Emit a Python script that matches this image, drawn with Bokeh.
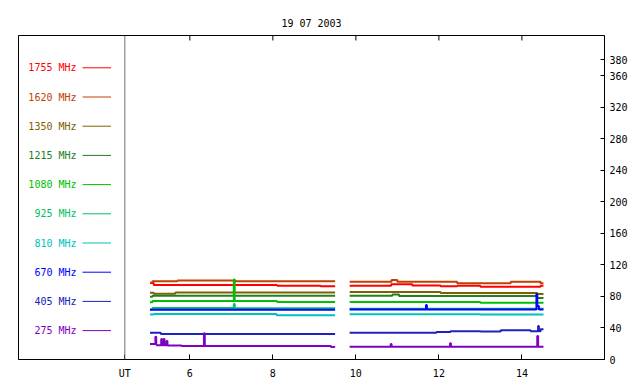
import math
from bokeh.plotting import figure
from bokeh.models import Range1d, FixedTicker, Span, Label
from bokeh.embed import file_html
from bokeh.resources import INLINE

nan = float("nan")

title_text = "19 07 2003"
freqs = ["1755 MHz", "1620 MHz", "1350 MHz", "1215 MHz", "1080 MHz",
         "925 MHz", "810 MHz", "670 MHz", "405 MHz", "275 MHz"]
colors = ["#ff0000", "#c04000", "#806000", "#208020", "#00c000",
          "#00c060", "#00c0c0", "#0000ff", "#2020c0", "#8000c0"]
x_ticks = [6, 8, 10, 12, 14]
ut_tick = 4.434
y_ticks = [0, 40, 80, 120, 160, 200, 240, 280, 320, 360, 380]

# time (UT hours) and flux values per frequency, NaN = data gap
t_1755 = [5.04, 5.13, 8.10, 9.15, 9.50, nan, 9.85, 10.85, 11.36, 12.04, 12.44, 13.00, 14.45, 14.52]
v_1755 = [97.0, 94.5, 93.7, 92.9, 92.9, nan, 93.7, 95.4, 93.9, 93.0, 93.5, 92.4, 93.7, 93.7]

t_1620 = [5.04, 5.10, 5.70, 7.10, 9.50, nan, 9.85, 10.86, 11.00, 12.44, 13.73, 14.45, 14.52]
v_1620 = [97.5, 99.3, 100.3, 99.3, 99.3, nan, 98.7, 101.0, 98.7, 96.7, 98.5, 96.7, 96.7]

t_1350 = [5.04, 5.13, 5.65, 9.50, nan, 9.85, 12.04, 14.37, 14.52]
v_1350 = [84.8, 83.3, 85.0, 85.0, nan, 85.7, 84.4, 83.0, 83.0]

t_1215 = [5.04, 5.10, 9.50, nan, 9.85, 10.88, 11.04, 14.37, 14.52]
v_1215 = [79.5, 81.0, 81.0, nan, 81.0, 82.6, 80.6, 78.0, 78.0]

t_1080 = [5.04, 5.10, 7.06, 7.08, 8.10, 9.50, nan, 9.85, 13.00, 14.52]
v_1080 = [72.5, 74.2, 101.5, 74.2, 73.0, 73.0, nan, 73.0, 72.0, 72.0]

t_925 = [5.04, 5.10, 7.06, 7.08, 9.50, nan, 9.85, 14.52]
v_925 = [63.5, 65.3, 70.4, 65.0, 65.0, nan, 64.3, 64.3]

t_810 = [5.04, 5.13, 8.09, 9.50, nan, 9.85, 13.00, 14.52]
v_810 = [57.0, 57.7, 56.1, 56.1, nan, 57.4, 57.0, 57.0]

t_670 = [5.04, 9.50, nan, 9.85, 11.69, 11.71, 14.35, 14.37, 14.41, 14.52]
v_670 = [63.0, 63.0, nan, 63.5, 69.2, 63.5, 83.0, 68.0, 63.5, 63.5]

t_405 = [5.04, 5.30, 9.50, nan, 9.85, 11.94, 12.28, 13.00, 13.49, 14.21, 14.39, 14.41, 14.45, 14.52]
v_405 = [34.0, 32.4, 32.4, nan, 34.0, 34.9, 35.8, 35.5, 37.0, 35.8, 42.5, 35.8, 38.3, 38.3]

t_275 = [5.04, 5.17, 5.19, 5.20, 5.31, 5.33, 5.37, 5.39, 5.44, 5.46, 5.80, 6.34, 6.36, 9.40, 9.50,
         nan, 9.85, 10.84, 10.86, 12.27, 12.29, 14.37, 14.39, 14.52]
v_275 = [19.7, 28.9, 19.0, 18.0, 26.0, 18.0, 26.0, 18.0, 23.5, 17.8, 17.1, 33.2, 17.1, 16.0, 16.0,
         nan, 16.3, 19.7, 16.3, 20.5, 16.3, 29.8, 16.3, 16.3]

series = [(t_1755, v_1755), (t_1620, v_1620), (t_1350, v_1350), (t_1215, v_1215),
          (t_1080, v_1080), (t_925, v_925), (t_810, v_810), (t_670, v_670),
          (t_405, v_405), (t_275, v_275)]

X0, X1 = 1.872, 15.99
Y0, Y1 = 0, 411
FONT = "DejaVu Sans Mono"

p = figure(width=640, height=384, x_range=Range1d(X0, X1), y_range=Range1d(Y0, Y1),
           y_axis_location="right", output_backend="svg", toolbar_location=None,
           min_border_left=18, min_border_right=36, min_border_top=35, min_border_bottom=25,
           title=title_text)
p.background_fill_color = "white"
p.border_fill_color = "white"
p.outline_line_color = "black"
p.outline_line_alpha = 1.0
p.xgrid.visible = False
p.ygrid.visible = False

p.title.text_font = FONT
p.title.text_font_size = "10px"
p.title.text_font_style = "normal"
p.title.align = "center"
p.title.vertical_align = "top"
p.title.text_color = "black"
p.title.standoff = 10

xa = p.xaxis[0]
xa.ticker = FixedTicker(ticks=[ut_tick] + x_ticks)
xa.major_label_overrides = {ut_tick: "UT"}
ya = p.yaxis[0]
ya.ticker = FixedTicker(ticks=y_ticks)

for ax, tin in ((xa, 5), (ya, 4)):
    ax.axis_line_color = "black"
    ax.major_tick_line_color = "black"
    ax.major_tick_in = tin
    ax.major_tick_out = 0
    ax.minor_tick_line_color = None
    ax.major_label_text_font = FONT
    ax.major_label_text_color = "black"
    ax.major_label_text_font_size = "10px"
xa.major_label_standoff = 8
ya.major_label_standoff = 5

# ticks along the top edge of the frame
ppu = 324.0 / (Y1 - Y0)
p.segment(x0=x_ticks, y0=[Y1] * len(x_ticks), x1=x_ticks, y1=[Y1 - 5 / ppu] * len(x_ticks),
          line_color="black", line_width=1)

p.add_layout(Span(location=ut_tick, dimension="height", line_color="#707070", line_width=1))

def split(ts, vs):
    segs, cx, cy = [], [], []
    for t, v in zip(ts, vs):
        if math.isnan(t):
            if cx:
                segs.append((cx, cy))
            cx, cy = [], []
        else:
            cx.append(t)
            cy.append(v)
    if cx:
        segs.append((cx, cy))
    return segs

for (ts, vs), c in zip(series, colors):
    for sx, sy in split(ts, vs):
        p.step(sx, sy, mode="after", line_color=c, line_width=2)

# legend (left panel)
def px_to_y(py):
    return (359.0 - py) / ppu
def px_to_x(px):
    return 6 + (px - 189.3) / 41.5

for i, (f, c) in enumerate(zip(freqs, colors)):
    yv = px_to_y(67.3 + 29.2 * i)
    p.add_layout(Label(x=px_to_x(76), y=yv, text=f, text_align="right", text_baseline="middle",
                       text_color=c, text_font=FONT, text_font_size="10px"))
    p.segment(x0=[px_to_x(82)], y0=[yv], x1=[px_to_x(110.5)], y1=[yv], line_color=c, line_width=1)

open("out.html", "w").write(file_html(p, INLINE))
